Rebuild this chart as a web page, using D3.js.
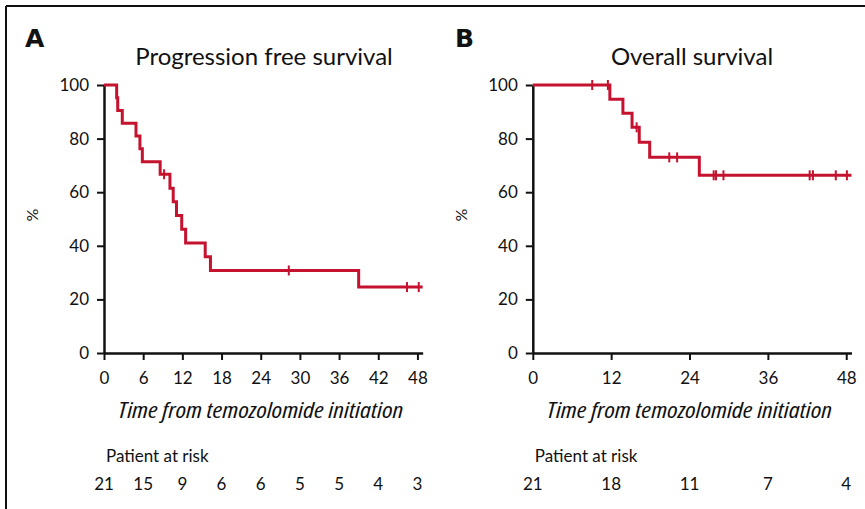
<!DOCTYPE html>
<html>
<head>
<meta charset="utf-8">
<script src="https://cdn.jsdelivr.net/npm/d3@7"></script>
<style>
  body { margin: 0; background: #fff; }
  svg { display: block; }
  text { font-family: Lato, "Noto Sans", sans-serif; fill: #111; }
  .axis-title { font-family: "Open Sans", "Noto Sans", sans-serif; font-style: italic; font-stretch: 75%; font-weight: 400; }
</style>
</head>
<body>
<svg id="chart" width="865" height="509"></svg>
<script>
// --- data ---
// progression free survival: step times (months) and survival (%)
const pfsTimes = [0, 1.94, 2.1, 2.8, 4.9, 5.5, 5.87, 8.6, 10.1, 10.6, 11.1, 11.9, 12.5, 15.5, 16.3, 39.0]
const pfsSurv  = [100, 95.2, 90.5, 85.7, 81.0, 76.2, 71.4, 66.7, 61.5, 56.4, 51.3, 46.2, 41.0, 35.9, 30.8, 24.6]
const pfsCensored = [9.2, 28.3, 46.4, 48.2]
const pfsLastFollowUp = 48.8
const pfsRiskTimes = [0, 6, 12, 18, 24, 30, 36, 42, 48]
const pfsAtRisk = [21, 15, 9, 6, 6, 5, 5, 4, 3]

// overall survival
const osTimes = [0, 11.8, 13.8, 15.2, 16.3, 17.9, 25.5]
const osSurv  = [100, 94.7, 89.5, 84.2, 78.6, 73.0, 66.3]
const osCensored = [9.1, 11.5, 15.9, 20.9, 22.1, 27.7, 28.05, 29.2, 42.4, 42.9, 46.4, 48.1]
const osLastFollowUp = 48.8
const osRiskTimes = [0, 12, 24, 36, 48]
const osAtRisk = [21, 18, 11, 7, 4]

const yTicks = [0, 20, 40, 60, 80, 100]
const xAxisTitle = 'Time from temozolomide initiation'

const red = '#c4122f'
const pxPerMonth = 6.53

const svg = d3.select('#chart')

// frame of the figure (top and left edges visible)
svg.append('line').attr('x1', 6).attr('x2', 865).attr('y1', 6).attr('y2', 6)
  .attr('stroke', '#111').attr('stroke-width', 2)
svg.append('line').attr('x1', 6).attr('x2', 6).attr('y1', 6).attr('y2', 509)
  .attr('stroke', '#111').attr('stroke-width', 2)

const y = d3.scaleLinear().domain([0, 100]).range([353, 85])

function survivalAt(times, surv, t) {
  let i = d3.bisectRight(times, t) - 1
  return surv[Math.max(0, i)]
}

function drawPanel(p) {
  const g = svg.append('g')
  const x = d3.scaleLinear()
    .domain([0, p.lastFollowUp])
    .range([p.left, p.left + p.lastFollowUp * pxPerMonth])

  // letter + title
  g.append('text').attr('x', p.letterX).attr('y', 47)
    .attr('font-size', 25).attr('font-weight', 900)
    .style('font-family', '"DejaVu Sans", sans-serif')
    .text(p.letter)
  g.append('text').attr('x', p.titleX).attr('y', 65)
    .attr('text-anchor', 'middle').attr('font-size', 24)
    .text(p.title)

  // axes
  const yAxis = g.append('g')
    .attr('transform', `translate(${p.left},0)`)
    .call(d3.axisLeft(y).tickValues(yTicks).tickSize(7).tickSizeOuter(0).tickPadding(8))
  const xAxis = g.append('g')
    .attr('transform', 'translate(0,353)')
    .call(d3.axisBottom(x).tickValues(p.riskTimes).tickSize(7).tickSizeOuter(0).tickPadding(12))

  ;[yAxis, xAxis].forEach(ax => {
    ax.select('.domain').attr('stroke', '#111').attr('stroke-width', 2.5)
    ax.selectAll('.tick line').attr('stroke', '#111').attr('stroke-width', 2)
    ax.selectAll('.tick text')
      .attr('font-size', 17)
      .style('font-family', 'Lato, "Noto Sans", sans-serif')
      .attr('fill', '#111')
  })

  // y title
  g.append('text')
    .attr('transform', `translate(${p.left - 66},215) rotate(-90)`)
    .attr('text-anchor', 'middle').attr('font-size', 16)
    .text('%')

  // x title
  g.append('text').attr('class', 'axis-title')
    .attr('x', x(24)).attr('y', 418)
    .attr('text-anchor', 'middle')
    .attr('font-size', 21)
    .attr('textLength', 285).attr('lengthAdjust', 'spacingAndGlyphs')
    .text(xAxisTitle)

  // step curve
  const pts = p.times.map((t, i) => [t, p.surv[i]])
  pts.push([p.lastFollowUp, p.surv[p.surv.length - 1]])
  const line = d3.line()
    .x(d => x(d[0])).y(d => y(d[1]))
    .curve(d3.curveStepAfter)
  g.append('path').datum(pts)
    .attr('d', line)
    .attr('fill', 'none')
    .attr('stroke', red)
    .attr('stroke-width', 3)

  // censor marks
  g.selectAll('line.censor').data(p.censored).enter()
    .append('line').attr('class', 'censor')
    .attr('x1', d => x(d)).attr('x2', d => x(d))
    .attr('y1', d => y(survivalAt(p.times, p.surv, d)) - 5)
    .attr('y2', d => y(survivalAt(p.times, p.surv, d)) + 5)
    .attr('stroke', red).attr('stroke-width', 2)

  // patients at risk
  g.append('text').attr('x', p.left + 2).attr('y', 462)
    .attr('font-size', 17).text('Patient at risk')
  g.selectAll('text.risk').data(p.atRisk).enter()
    .append('text').attr('class', 'risk')
    .attr('x', (d, i) => x(p.riskTimes[i]))
    .attr('y', 490)
    .attr('text-anchor', 'middle')
    .attr('font-size', 17)
    .text(d => d)
}

drawPanel({
  letter: 'A', letterX: 25, title: 'Progression free survival', titleX: 264,
  left: 104, times: pfsTimes, surv: pfsSurv, censored: pfsCensored,
  lastFollowUp: pfsLastFollowUp, riskTimes: pfsRiskTimes, atRisk: pfsAtRisk
})
drawPanel({
  letter: 'B', letterX: 455, title: 'Overall survival', titleX: 692,
  left: 532.8, times: osTimes, surv: osSurv, censored: osCensored,
  lastFollowUp: osLastFollowUp, riskTimes: osRiskTimes, atRisk: osAtRisk
})
</script>
</body>
</html>
